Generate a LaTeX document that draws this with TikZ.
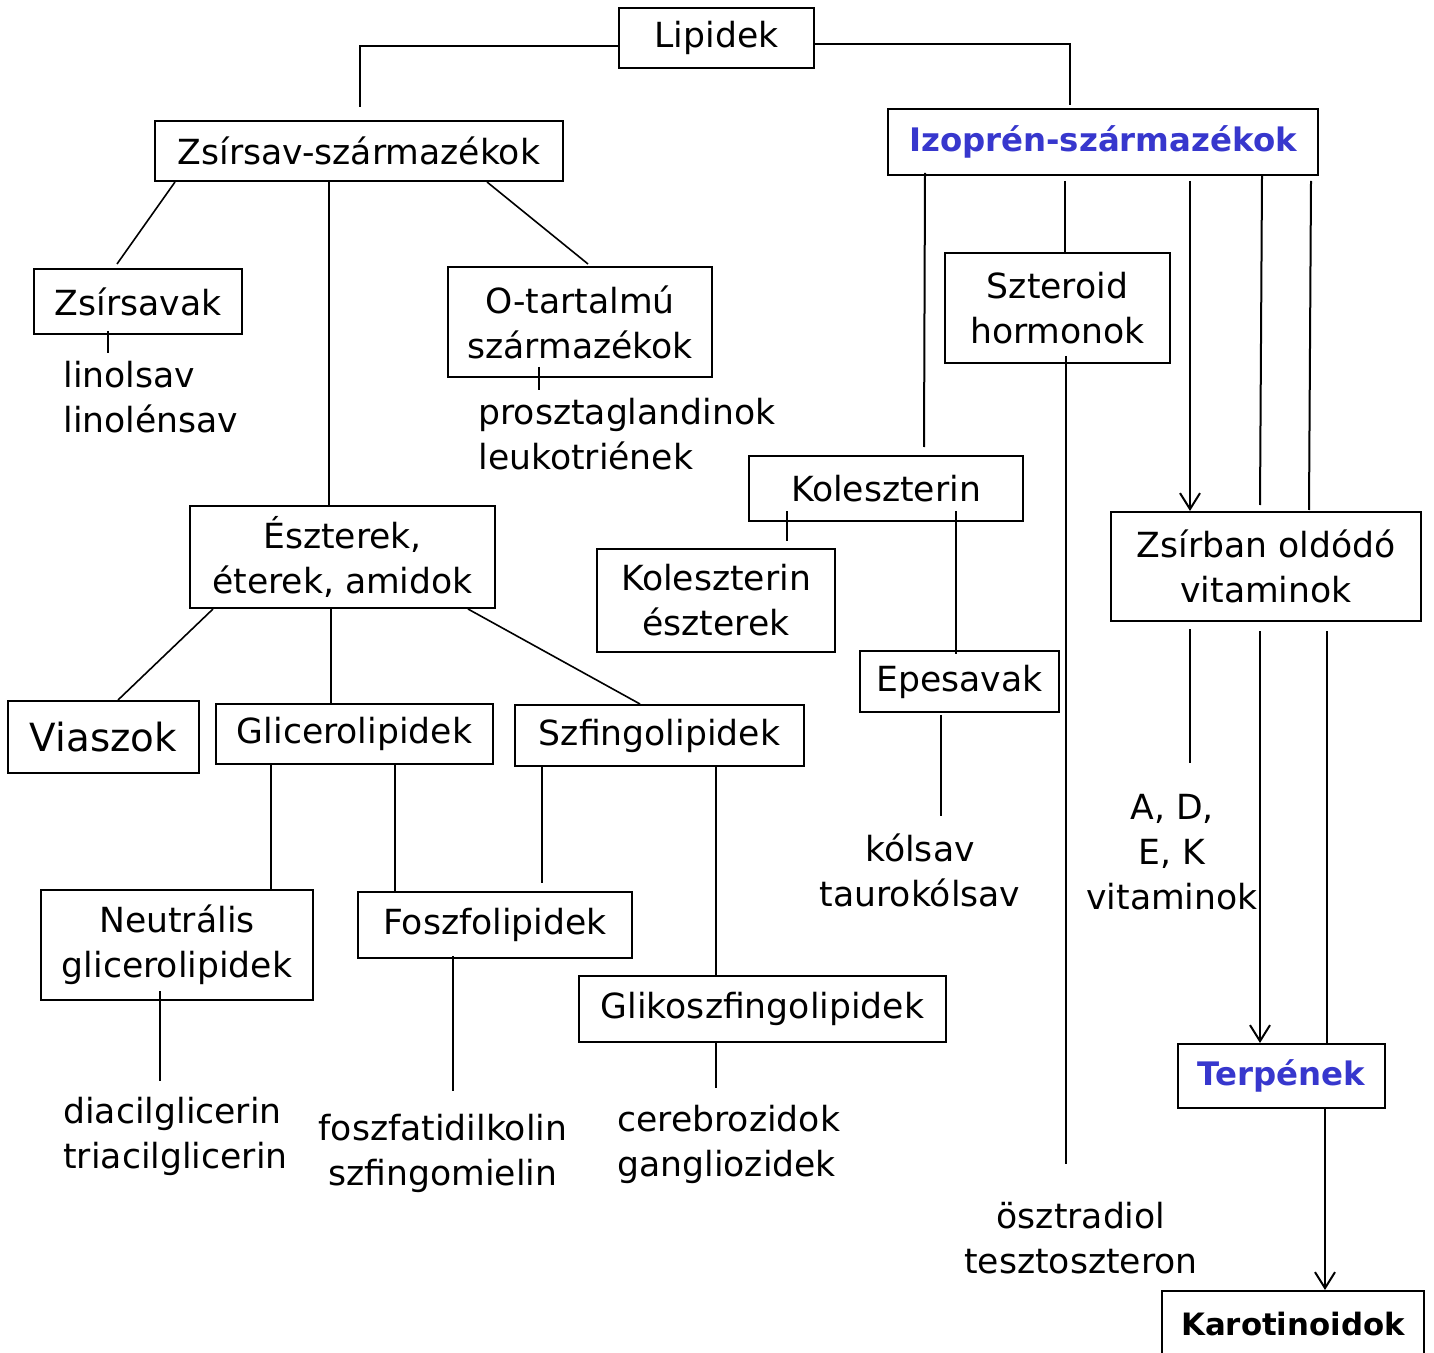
\documentclass[tikz,border=0pt]{standalone}
\usepackage{fontspec}
\setmainfont{DejaVu Sans}
\usepackage{xcolor}
\usepackage{tikz}
\usetikzlibrary{arrows.meta,positioning}

\definecolor{izoblue}{RGB}{55,55,205}
\newcommand{\lipfont}{\fontsize{17.3}{22.5}\selectfont}

\begin{document}
\begin{tikzpicture}[
    x=0.5pt, y=-0.5pt,
    box/.style={rectangle, draw, line width=1pt, inner sep=0pt, align=center, font=\lipfont},
    sz/.style 2 args={minimum width=#1*0.5pt, minimum height=#2*0.5pt},
    izo/.style={text=izoblue, font=\fontsize{16.2}{22.5}\selectfont\bfseries},
    lbl/.style={inner sep=0pt, font=\lipfont},
    link/.style={line width=1pt},
    slant/.style={line width=0.8pt},
    arrow/.style={-{Straight Barb[length=8pt,width=10pt]}, line width=1pt}
]
\useasboundingbox (0,0) rectangle (1434,1353);

% boxes
\node[box, sz={195}{60}] (lipidek) at (716.5,38) {Lipidek};
\node[box, sz={408}{60}] (zsirsav) at (359,151) {Zsírsav-származékok};
\node[box, sz={208}{65}] (zsavak) at (138,301.5) {Zsírsavak};
\node[box, sz={264}{110}] (otart) at (580,322) {O-tartalmú\\származékok};
\node[box, sz={305}{102}] (esz) at (342.5,557) {Észterek,\\éterek, amidok};
\node[box, sz={191}{72}, font=\fontsize{19.4}{22.5}\selectfont] (viasz) at (103.5,737) {Viaszok};
\node[box, sz={277}{60}] (glic) at (354.5,734) {Glicerolipidek};
\node[box, sz={289}{61}] (szfing) at (659.5,735.5) {Szfingolipidek};
\node[box, sz={272}{110}] (neutr) at (177,945) {Neutrális\\glicerolipidek};
\node[box, sz={274}{66}] (foszf) at (495,925) {Foszfolipidek};
\node[box, sz={367}{66}] (gliko) at (762.5,1009) {Glikoszfingolipidek};
\node[box, sz={430}{66}, izo] (izopren) at (1103,142) {Izoprén-származékok};
\node[box, sz={225}{110}] (szteroid) at (1057.5,308) {Szteroid\\hormonok};
\node[box, sz={274}{65}] (kol) at (886,488.5) {Koleszterin};
\node[box, sz={238}{103}] (kolesz) at (716,600.5) {Koleszterin\\észterek};
\node[box, sz={199}{61}] (epe) at (959.5,681.5) {Epesavak};
\node[box, sz={310}{109}] (zsirban) at (1266,566.5) {Zsírban oldódó\\vitaminok};
\node[box, sz={207}{64}, izo] (terpen) at (1281.5,1076) {Terpének};
\node[box, sz={262}{66}, font=\fontsize{15.4}{22.5}\selectfont\bfseries] (karot) at (1293,1324) {Karotinoidok};

% examples
\node[lbl, anchor=west, align=left] (zsav-ex) at (63,397.5) {linolsav\\linolénsav};
\node[lbl, anchor=west, align=left] (otart-ex) at (478,434.5) {prosztaglandinok\\leukotriének};
\node[lbl, anchor=west, align=left] (neutr-ex) at (63,1136.5) {diacilglicerin\\triacilglicerin};
\node[lbl, align=center] (foszf-ex) at (443,1153) {foszfatidilkolin\\szfingomielin};
\node[lbl, anchor=west, align=left] (gliko-ex) at (617,1144) {cerebrozidok\\gangliozidek};
\node[lbl, align=center] (epe-ex) at (920,870.5) {kólsav\\taurokólsav};
\node[lbl, align=center] (szteroid-ex) at (1081,1238) {ösztradiol\\tesztoszteron};
\node[lbl, align=center] (vit-ex) at (1172,852.5) {A, D,\\E, K\\vitaminok};

% left side
\draw[link] (lipidek.west |- 0,46) -| ([yshift=6.5pt]zsirsav.north -| 360,0);
\draw[slant] (zsirsav.south -| 175,0) -- ([yshift=2pt]zsavak.north -| 117,0);
\draw[link] (zsirsav.south -| 329,0) -- (esz.north -| 329,0);
\draw[slant] (zsirsav.south -| 487,0) -- ([yshift=1pt]otart.north -| 588,0);
\draw[link] ([yshift=2pt]zsavak.south -| 108,0) -- ++(0,22);
\draw[link] ([yshift=5.5pt]otart.south -| 539,0) -- ++(0,23);
\draw[slant] (esz.south -| 213,0) -- (viasz.north -| 118,0);
\draw[link] (esz.south -| 331,0) -- (glic.north -| 331,0);
\draw[slant] (esz.south -| 468,0) -- (szfing.north -| 640,0);
\draw[link] (glic.south -| 271,0) -- (neutr.north -| 271,0);
\draw[link] (glic.south -| 395,0) -- (foszf.north -| 395,0);
\draw[link] (szfing.south -| 542,0) -- ([yshift=4pt]foszf.north -| 542,0);
\draw[link] (szfing.south -| 716,0) -- (gliko.north -| 716,0);
\draw[link] ([yshift=5pt]neutr.south -| 160,0) -- ++(0,90);
\draw[link] ([yshift=1.5pt]foszf.south -| 453,0) -- ++(0,135);
\draw[link] ([yshift=1pt]gliko.south -| 716,0) -- ++(0,47);

% right side
\draw[link] (lipidek.east |- 0,44) -| ([yshift=1.5pt]izopren.north -| 1070,0);
\draw[link] ([yshift=1.5pt]izopren.south -| 925,0) -- ([yshift=4pt]kol.north -| 924,0);
\draw[link] ([yshift=-2.5pt]izopren.south -| 1065,0) -- (szteroid.north -| 1065,0);
\draw[arrow] ([yshift=-2.5pt]izopren.south -| 1190,0) -- (zsirban.north -| 1190,0);
\draw[link] (izopren.south -| 1262,0) -- ([yshift=3pt]zsirban.north -| 1260,0);
\draw[link] ([yshift=-2.5pt]izopren.south -| 1311,0) -- ([yshift=0.5pt]zsirban.north -| 1309,0);
\draw[link] ([yshift=4pt]szteroid.south -| 1066,0) -- ++(0,808);
\draw[link] ([yshift=5.5pt]kol.south -| 787,0) -- ([yshift=3.5pt]kolesz.north -| 787,0);
\draw[link] ([yshift=5.5pt]kol.south -| 956,0) -- ([yshift=-2pt]epe.north -| 956,0);
\draw[link] ([yshift=-1pt]epe.south -| 941,0) -- ++(0,101);
\draw[link] ([yshift=-3.5pt]zsirban.south -| 1190,0) -- ++(0,134);
\draw[arrow] ([yshift=-4.5pt]zsirban.south -| 1260,0) -- (terpen.north -| 1260,0);
\draw[link] ([yshift=-4.5pt]zsirban.south -| 1327,0) -- (terpen.north -| 1327,0);
\draw[arrow] (terpen.south -| 1325,0) -- (karot.north -| 1325,0);

\end{tikzpicture}
\end{document}
